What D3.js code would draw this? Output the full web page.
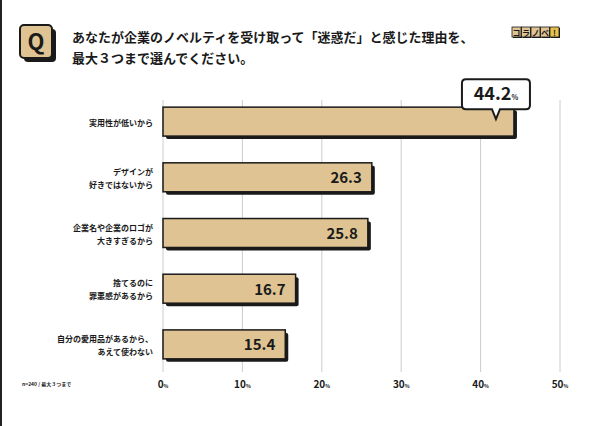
<!DOCTYPE html><html><head><meta charset="utf-8"><script src="https://cdn.jsdelivr.net/npm/d3@7"></script>
<style>body{margin:0;background:#fff}text{font-family:"Noto Sans CJK JP";font-weight:700}</style></head><body><svg id="c" width="600" height="426"></svg>
<script>
const categories=[["実用性が低いから"],["デザインが","好きではないから"],["企業名や企業のロゴが","大きすぎるから"],["捨てるのに","罪悪感があるから"],["自分の愛用品があるから、","あえて使わない"]];
const values=[44.2,26.3,25.8,16.7,15.4];
const ticks=[0,10,20,30,40,50];
const svg=d3.select("#c");
const fill="#dfc393",ink="#1a1a1a";
svg.append("rect").attr("x",0).attr("y",0).attr("width",2).attr("height",426).attr("fill","#222");
// Q icon
svg.append("rect").attr("x",24).attr("y",29).attr("width",32).attr("height",33).attr("rx",4).attr("fill",ink);
svg.append("rect").attr("x",20).attr("y",25).attr("width",32).attr("height",33).attr("rx",4).attr("fill",fill).attr("stroke",ink).attr("stroke-width",2);
svg.append("text").attr("x",36).attr("y",50).attr("text-anchor","middle").attr("font-size",22).attr("font-family","Arial").attr("font-weight",900).attr("fill",ink).text("Q");
svg.append("text").attr("x",72).attr("y",42).attr("font-size",13).attr("fill",ink).text("あなたが企業のノベルティを受け取って「迷惑だ」と感じた理由を、");
svg.append("text").attr("x",72).attr("y",63).attr("font-size",13).attr("fill",ink).text("最大３つまで選んでください。");
// logo
const lg=["コ","ラ","ノ","ベ","!"];
lg.forEach((c,i)=>{const g=svg.append("g").attr("transform",`translate(${512+i*9.5},27)`);
g.append("rect").attr("x",1).attr("y",1).attr("width",9).attr("height",10).attr("fill",ink);
g.append("rect").attr("width",9).attr("height",10).attr("fill",i==4?"#e8c24a":fill).attr("stroke",ink).attr("stroke-width",0.8);
g.append("text").attr("x",4.5).attr("y",8.5).attr("text-anchor","middle").attr("font-size",8).attr("fill",ink).text(c);});
const x=d3.scaleLinear().domain([0,50]).range([163,560]);
const y=d3.scaleBand().domain(d3.range(values.length)).range([96,370]).paddingInner(0.48).paddingOuter(0.2);
ticks.forEach(t=>{svg.append("line").attr("x1",x(t)).attr("x2",x(t)).attr("y1",100).attr("y2",372).attr("stroke","#ccc").attr("stroke-width",1);
const tx=svg.append("text").attr("x",x(t)).attr("y",388).attr("font-size",10).attr("fill",ink).attr("text-anchor","middle");
tx.append("tspan").text(t);tx.append("tspan").attr("font-size",5).text("%");});
values.forEach((v,i)=>{const y0=y(i),h=y.bandwidth();
svg.append("rect").attr("x",x(0)+3).attr("y",y0+3).attr("width",x(v)-x(0)).attr("height",h).attr("rx",2).attr("fill",ink);
svg.append("rect").attr("x",x(0)).attr("y",y0).attr("width",x(v)-x(0)).attr("height",h).attr("fill",fill).attr("stroke",ink).attr("stroke-width",1.5);
const lines=categories[i];
lines.forEach((l,j)=>svg.append("text").attr("x",153).attr("y",y0+h/2+4+(j-(lines.length-1)/2)*13).attr("text-anchor","end").attr("font-size",8).attr("fill",ink).text(l));
if(i>0)svg.append("text").attr("x",x(v)-10).attr("y",y0+h/2+6).attr("text-anchor","end").attr("font-size",15).attr("font-family","Roboto").attr("font-weight",700).attr("fill",ink).text(v.toFixed(1));
});
// callout
const cx=x(values[0])-18,by=y(0)-28;
svg.append("path").attr("d",`M${cx-30},${by} h60 q4,0 4,4 v22 q0,4 -4,4 h-26 l-4,10 l-4,-10 h-26 q-4,0 -4,-4 v-22 q0,-4 4,-4z`).attr("fill","#fff").attr("stroke",ink).attr("stroke-width",2);
const ct=svg.append("text").attr("x",cx).attr("y",by+21).attr("text-anchor","middle").attr("font-size",18).attr("font-family","Roboto").attr("font-weight",700).attr("fill",ink);
ct.append("tspan").text(values[0].toFixed(1));ct.append("tspan").attr("font-size",7).text("%");
svg.append("text").attr("x",22).attr("y",386).attr("font-size",5).attr("fill",ink).text("n=240 / 最大３つまで");
</script></body></html>
